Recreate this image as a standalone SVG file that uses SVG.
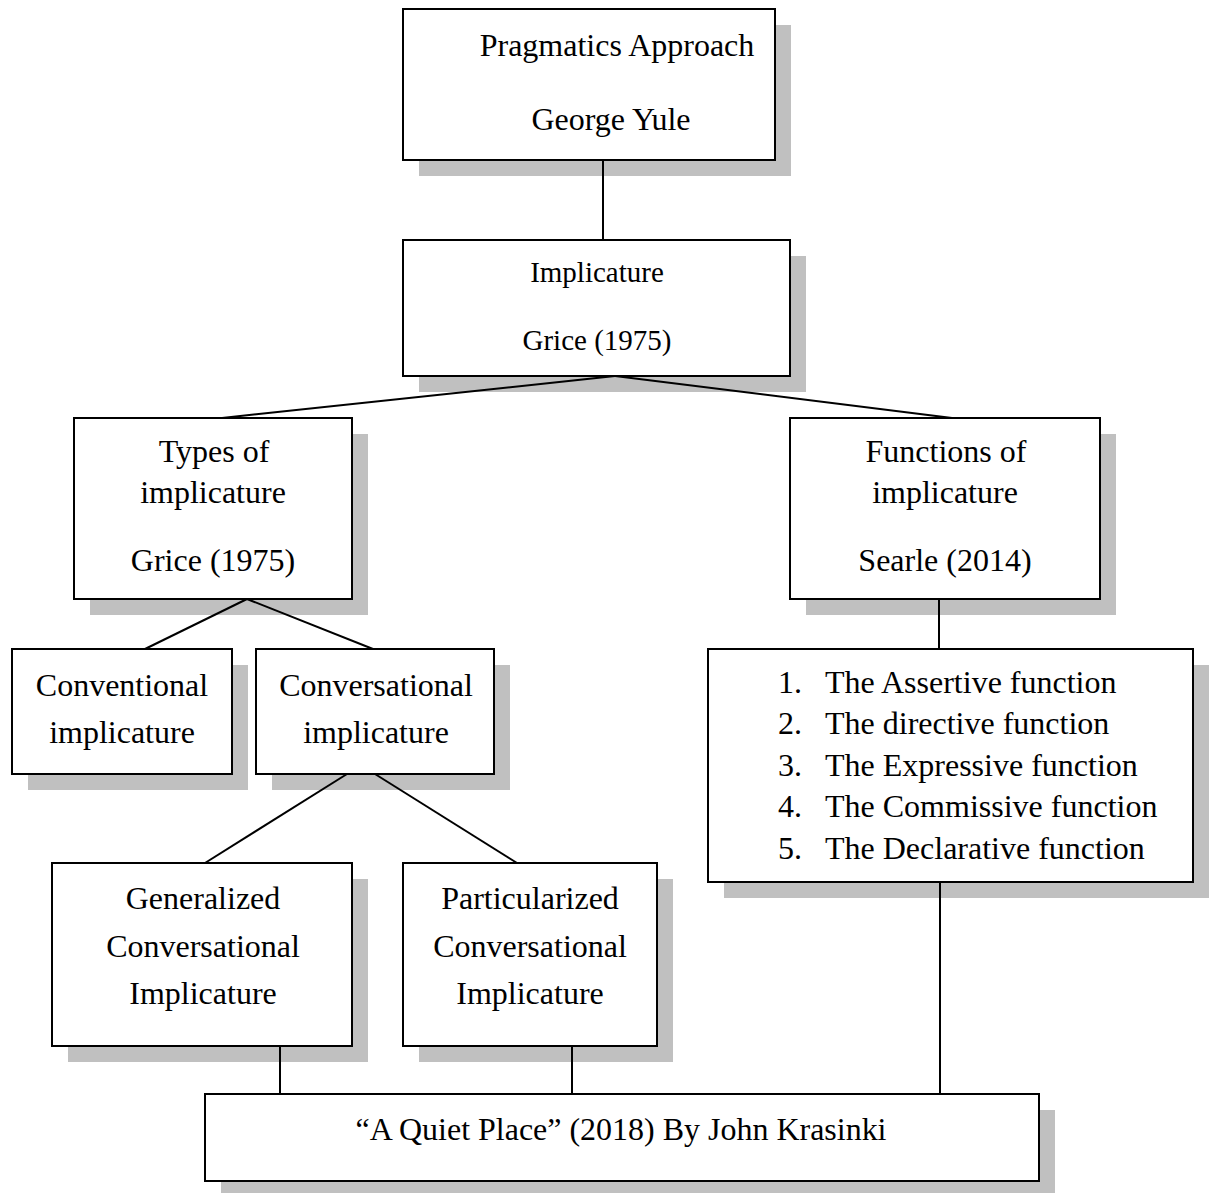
<svg xmlns="http://www.w3.org/2000/svg" width="1213" height="1193" viewBox="0 0 1213 1193">
<style>
.sh{fill:#c0c0c0;}
.bx{fill:#fff;stroke:#000;stroke-width:2;}
text{font-family:"Liberation Serif","Times New Roman",serif;font-size:32px;fill:#000;}
.c{text-anchor:middle;}
.s{font-size:29px;}
#connectors line{stroke:#000;stroke-width:2;}
</style>
<rect width="1213" height="1193" fill="#fff"/>
<g id="n-pragmatics">
<rect class="sh" x="419" y="25" width="372" height="151"/>
<rect class="bx" x="403" y="9" width="372" height="151"/>
<text class="c" x="617" y="56">Pragmatics Approach</text>
<text class="c" x="611" y="130">George Yule</text>
</g>
<g id="n-implicature">
<rect class="sh" x="419" y="256" width="387" height="136"/>
<rect class="bx" x="403" y="240" width="387" height="136"/>
<text class="c s" x="597" y="282">Implicature</text>
<text class="c s" x="597" y="350">Grice (1975)</text>
</g>
<g id="n-types">
<rect class="sh" x="90" y="434" width="278" height="181"/>
<rect class="bx" x="74" y="418" width="278" height="181"/>
<text class="c" x="214" y="462">Types of</text>
<text class="c" x="213" y="503">implicature</text>
<text class="c" x="213" y="571">Grice (1975)</text>
</g>
<g id="n-functions">
<rect class="sh" x="806" y="434" width="310" height="181"/>
<rect class="bx" x="790" y="418" width="310" height="181"/>
<text class="c" x="946" y="462">Functions of</text>
<text class="c" x="945" y="503">implicature</text>
<text class="c" x="945" y="571">Searle (2014)</text>
</g>
<g id="n-conventional">
<rect class="sh" x="28" y="665" width="220" height="125"/>
<rect class="bx" x="12" y="649" width="220" height="125"/>
<text class="c" x="122" y="696">Conventional</text>
<text class="c" x="122" y="743">implicature</text>
</g>
<g id="n-conversational">
<rect class="sh" x="272" y="665" width="238" height="125"/>
<rect class="bx" x="256" y="649" width="238" height="125"/>
<text class="c" x="376" y="696">Conversational</text>
<text class="c" x="376" y="743">implicature</text>
</g>
<g id="n-list">
<rect class="sh" x="724" y="665" width="485" height="233"/>
<rect class="bx" x="708" y="649" width="485" height="233"/>
<text x="778" y="693">1.</text><text x="825" y="693">The Assertive function</text>
<text x="778" y="734">2.</text><text x="825" y="734">The directive function</text>
<text x="778" y="776">3.</text><text x="825" y="776">The Expressive function</text>
<text x="778" y="817">4.</text><text x="825" y="817">The Commissive function</text>
<text x="778" y="859">5.</text><text x="825" y="859">The Declarative function</text>
</g>
<g id="n-generalized">
<rect class="sh" x="68" y="879" width="300" height="183"/>
<rect class="bx" x="52" y="863" width="300" height="183"/>
<text class="c" x="203" y="909">Generalized</text>
<text class="c" x="203" y="957">Conversational</text>
<text class="c" x="203" y="1004">Implicature</text>
</g>
<g id="n-particularized">
<rect class="sh" x="419" y="879" width="254" height="183"/>
<rect class="bx" x="403" y="863" width="254" height="183"/>
<text class="c" x="530" y="909">Particularized</text>
<text class="c" x="530" y="957">Conversational</text>
<text class="c" x="530" y="1004">Implicature</text>
</g>
<g id="n-film">
<rect class="sh" x="221" y="1110" width="834" height="83"/>
<rect class="bx" x="205" y="1094" width="834" height="87"/>
<text class="c" x="621" y="1140" textLength="531" lengthAdjust="spacingAndGlyphs">“A Quiet Place” (2018) By John Krasinki</text>
</g>
<g id="connectors">
<line x1="603" y1="160" x2="603" y2="240"/>
<line x1="615" y1="376" x2="222" y2="418"/>
<line x1="615" y1="376" x2="952" y2="418"/>
<line x1="939" y1="599" x2="939" y2="649"/>
<line x1="247" y1="599" x2="145" y2="649"/>
<line x1="247" y1="599" x2="373" y2="649"/>
<line x1="347" y1="774" x2="205" y2="863"/>
<line x1="375" y1="774" x2="517" y2="863"/>
<line x1="280" y1="1046" x2="280" y2="1094"/>
<line x1="572" y1="1046" x2="572" y2="1094"/>
<line x1="940" y1="882" x2="940" y2="1094"/>
</g>
</svg>
